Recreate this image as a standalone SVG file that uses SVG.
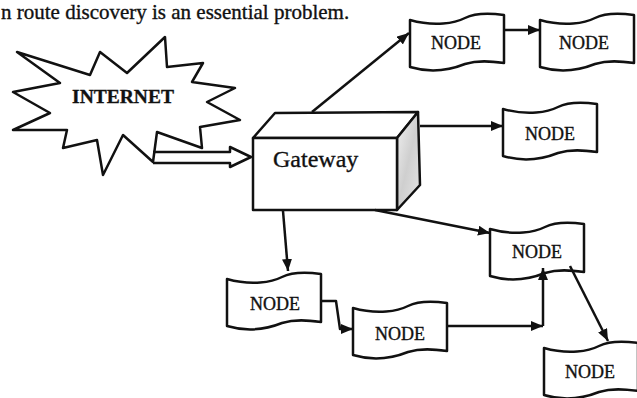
<svg xmlns="http://www.w3.org/2000/svg" xmlns:xlink="http://www.w3.org/1999/xlink" width="637" height="398" viewBox="0 0 637 398">
  <style>
    .ln { fill: none; stroke: #111; stroke-width: 2.5; stroke-linejoin: round; }
    .shape { fill: #fff; stroke: #111; stroke-width: 2.5; stroke-linejoin: round; }
    .serif { font-family: "Liberation Serif", "Times New Roman", serif; fill: #111; stroke: #111; stroke-width: 0.35; }
    .node-label { font-size: 18px; text-anchor: middle; }
    .caption { font-size: 21px; }
  </style>
  <defs>
    <!-- punched-tape node outline, local coordinates -->
    <path id="tape" d="M0,7 C25,14 45,10 55,5 C65,0 80,0 94,2 L94,50 C80,48 68,47 55,51 C40,57 20,60 0,54 Z"/>
    <marker id="arrow" viewBox="0 0 12 10" refX="12" refY="5" markerWidth="12" markerHeight="10" markerUnits="userSpaceOnUse" orient="auto">
      <path d="M0,0 L12,5 L0,10 Z" fill="#111"/>
    </marker>
    <linearGradient id="sideShade" x1="0" y1="0" x2="1" y2="1">
      <stop offset="0" stop-color="#f2f2f2"/>
      <stop offset="0.5" stop-color="#cfcfcf"/>
      <stop offset="1" stop-color="#e6e6e6"/>
    </linearGradient>
  </defs>

  <rect width="637" height="398" fill="#fff"/>

  <!-- caption line above the figure -->
  <text class="serif caption" x="1" y="19">n route discovery is an essential problem.</text>

  <!-- INTERNET starburst -->
  <g id="internet">
    <polygon class="shape" points="17,52 90,75 100,52 127,73 165,37 167,67 203,63 192,82 235,88 207,102 240,120 200,127 202,148 157,132 153,162 123,135 103,175 97,140 63,148 67,130 13,130 50,113 13,92 60,83"/>
    <text class="serif" x="123" y="103" text-anchor="middle" font-weight="bold" font-size="19.5">INTERNET</text>
  </g>

  <!-- Gateway box -->
  <g id="gateway">
    <polygon class="shape" points="253,138 275,113 418,112 397,138"/>
    <polygon points="397,138 418,112 420,185 397,210" fill="url(#sideShade)" stroke="#111" stroke-width="2.5" stroke-linejoin="round"/>
    <rect class="shape" x="253" y="138" width="144" height="72"/>
    <text class="serif" x="273" y="167" font-size="24">Gateway</text>
  </g>

  <!-- nodes -->
  <g id="node1" transform="translate(410,13)">
    <use xlink:href="#tape" class="shape"/>
    <text class="serif node-label" x="46" y="36">NODE</text>
  </g>
  <g id="node2" transform="translate(540,13)">
    <use xlink:href="#tape" class="shape"/>
    <text class="serif node-label" x="44" y="36">NODE</text>
  </g>
  <g id="node3" transform="translate(503,102)">
    <use xlink:href="#tape" class="shape"/>
    <text class="serif node-label" x="47" y="38">NODE</text>
  </g>
  <g id="node4" transform="translate(490,222)">
    <use xlink:href="#tape" class="shape"/>
    <text class="serif node-label" x="47" y="36">NODE</text>
  </g>
  <g id="node5" transform="translate(227,272)">
    <use xlink:href="#tape" class="shape"/>
    <text class="serif node-label" x="48" y="38">NODE</text>
  </g>
  <g id="node6" transform="translate(353,301)">
    <use xlink:href="#tape" class="shape"/>
    <text class="serif node-label" x="47" y="39">NODE</text>
  </g>
  <g id="node7" transform="translate(544,341)">
    <use xlink:href="#tape" class="shape"/>
    <text class="serif node-label" x="46" y="37">NODE</text>
  </g>

  <!-- connectors -->
  <g id="connectors">
    <!-- hollow arrow from INTERNET into the gateway -->
    <polyline class="ln" points="153,152 230,152 230,147 251,157 230,167 230,163 153,163"/>
    <line class="ln" x1="312" y1="112" x2="409" y2="33" marker-end="url(#arrow)"/>
    <line class="ln" x1="504" y1="30" x2="540" y2="30" marker-end="url(#arrow)"/>
    <line class="ln" x1="420" y1="126" x2="503" y2="126" marker-end="url(#arrow)"/>
    <line class="ln" x1="375" y1="210" x2="490" y2="233" marker-end="url(#arrow)"/>
    <line class="ln" x1="283" y1="211" x2="288" y2="271" marker-end="url(#arrow)"/>
    <polyline class="ln" points="321,301 336,301 340,329 353,329" marker-end="url(#arrow)"/>
    <line class="ln" x1="447" y1="326" x2="543" y2="326" marker-end="url(#arrow)"/>
    <line class="ln" x1="543" y1="326" x2="543" y2="268" marker-end="url(#arrow)"/>
    <line class="ln" x1="570" y1="266" x2="608" y2="341" marker-end="url(#arrow)"/>
  </g>
</svg>
